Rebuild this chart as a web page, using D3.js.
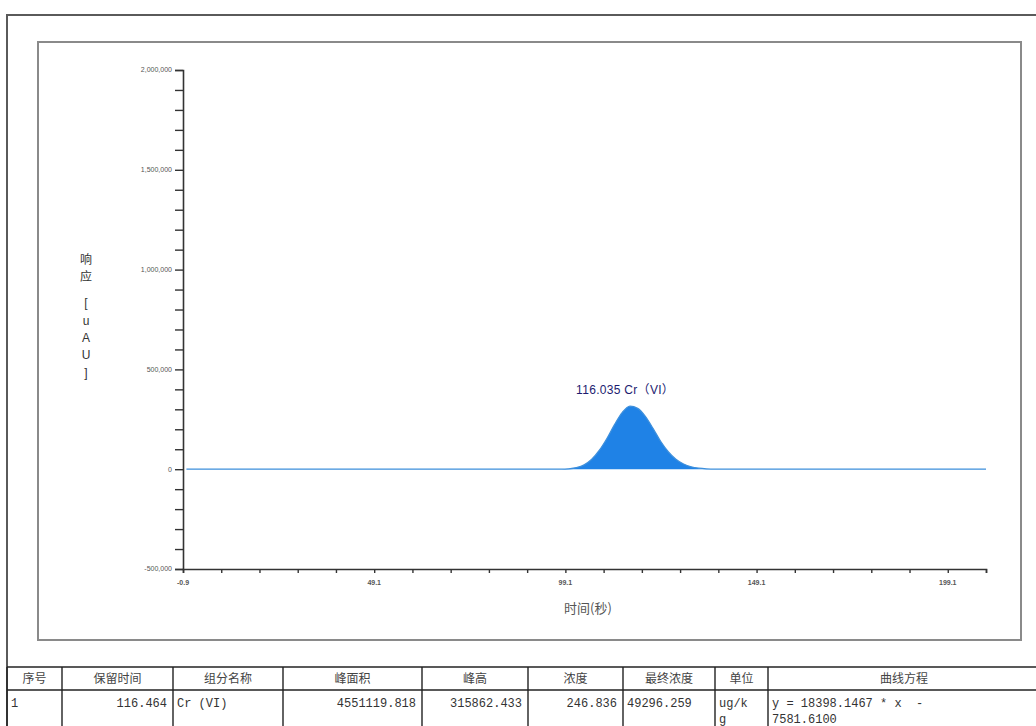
<!DOCTYPE html>
<html><head><meta charset="utf-8">
<script src="https://cdn.jsdelivr.net/npm/d3@7"></script>
<style>
html,body{margin:0;padding:0;background:#fff;}
svg{display:block;}
</style></head>
<body>
<svg id="c" width="1036" height="726"></svg>
<script>
// ---- data ----
const times = [0, 98, 100, 102, 104, 106, 108, 110, 112, 114, 116, 118, 120, 122, 124, 126, 128, 130, 132, 134, 136, 138, 209.1];
const response = [0, 0, 2000, 8000, 22000, 50000, 95000, 155000, 225000, 285000, 316000, 305000, 265000, 205000, 140000, 88000, 50000, 26000, 12000, 5000, 1500, 0, 0];
const peakLabel = "116.035 Cr（VI）";
const peakTime = 116.035;
const peakValue = 316000;
const xTickValues = [-0.9, 9.1, 19.1, 29.1, 39.1, 49.1, 59.1, 69.1, 79.1, 89.1, 99.1, 109.1, 119.1, 129.1, 139.1, 149.1, 159.1, 169.1, 179.1, 189.1, 199.1, 209.1];
const xTickLabels = ["-0.9", "49.1", "99.1", "149.1", "199.1"];
const yTickLabels = ["-500,000", "0", "500,000", "1,000,000", "1,500,000", "2,000,000"];
const yLabelChars = ["响", "应", "[", "u", "A", "U", "]"];
const xTitle = "时间(秒)";
const tableHeaders = ["序号", "保留时间", "组分名称", "峰面积", "峰高", "浓度", "最终浓度", "单位", "曲线方程"];
const tableRow = ["1", "116.464", "Cr (VI)", "4551119.818", "315862.433", "246.836", "49296.259", "ug/k|g", "y = 18398.1467 * x  -|7581.6100"];

// ---- layout ----
const svg = d3.select("#c");
const x = d3.scaleLinear().domain([-0.9, 209.1]).range([183, 986]);
const y = d3.scaleLinear().domain([-500000, 2000000]).range([569, 70]);

// outer frame
svg.append("path").attr("d", "M7,726 L7,15 L1036,15").attr("fill", "none").attr("stroke", "#5a5a5a").attr("stroke-width", 2);
// inner chart box
svg.append("rect").attr("x", 38).attr("y", 42).attr("width", 983).attr("height", 598)
  .attr("fill", "none").attr("stroke", "#8a8a8a").attr("stroke-width", 2);

// y axis
const yAxis = d3.axisLeft(y).tickValues(d3.range(-500000, 2000001, 100000))
  .tickSize(8).tickFormat(d => "");
const gy = svg.append("g").attr("transform", "translate(183,0)").call(yAxis);
gy.select(".domain").attr("stroke", "#333").attr("stroke-width", 1.6);
gy.selectAll(".tick line").attr("stroke", "#333").attr("stroke-width", 1.4);
const yMajors = [-500000, 0, 500000, 1000000, 1500000, 2000000];
svg.append("g").selectAll("text").data(yMajors).join("text")
  .attr("x", 172).attr("y", d => y(d)).attr("dy", "0.35em")
  .attr("text-anchor", "end").attr("font-family", "Liberation Sans, Arial, sans-serif")
  .attr("font-size", 7).attr("fill", "#555")
  .text((d, i) => yTickLabels[i]);

// x axis
const xAxis = d3.axisBottom(x).tickValues(xTickValues).tickSize(4).tickFormat(d => "");
const gx = svg.append("g").attr("transform", "translate(0,569)").call(xAxis);
gx.select(".domain").attr("stroke", "#333").attr("stroke-width", 1.6);
gx.selectAll(".tick line").attr("stroke", "#333").attr("stroke-width", 1.4);
const xMajors = [-0.9, 49.1, 99.1, 149.1, 199.1];
svg.append("g").selectAll("text").data(xMajors).join("text")
  .attr("x", d => x(d)).attr("y", 585)
  .attr("text-anchor", "middle").attr("font-family", "Liberation Sans, Arial, sans-serif")
  .attr("font-size", 7).attr("font-weight", "bold").attr("fill", "#555")
  .text((d, i) => xTickLabels[i]);

// axis titles
const yCharPos = [260, 277, 303, 321, 338, 355, 373];
svg.append("g").selectAll("text").data(yLabelChars).join("text")
  .attr("x", 86).attr("y", (d, i) => yCharPos[i]).attr("dy", "0.35em")
  .attr("text-anchor", "middle")
  .attr("font-family", "Liberation Sans, Noto Sans CJK SC, sans-serif")
  .attr("font-size", 12).attr("fill", "#333")
  .text(d => d);
svg.append("text").attr("x", 588).attr("y", 613).attr("text-anchor", "middle")
  .attr("font-family", "Noto Sans CJK SC, sans-serif").attr("font-size", 13).attr("fill", "#555")
  .text(xTitle);

// peak
const pts = times.map((t, i) => [t, response[i]]);
const area = d3.area().x(d => x(d[0])).y0(y(0)).y1(d => y(d[1])).curve(d3.curveMonotoneX);
svg.append("path").datum(pts).attr("d", area).attr("fill", "#1f82e6");
const line = d3.line().x(d => x(d[0])).y(d => y(d[1])).curve(d3.curveMonotoneX);
svg.append("path").datum(pts).attr("d", line).attr("fill", "none").attr("stroke", "#3d8fdc").attr("stroke-width", 1.3);

svg.append("text").attr("x", x(peakTime) - 5).attr("y", y(peakValue) - 12)
  .attr("text-anchor", "middle").attr("font-family", "Liberation Sans, Arial, Noto Sans CJK SC, sans-serif")
  .attr("font-size", 12).attr("fill", "#1c1c70").attr("letter-spacing", 0.3)
  .text(peakLabel);

// table
const colEdges = [7, 62, 173, 283, 422, 528, 623, 715, 768, 1036];
const tTop = 667, tMid = 690, tBot = 726;
const tg = svg.append("g");
tg.append("line").attr("x1", 7).attr("x2", 1036).attr("y1", tTop).attr("y2", tTop).attr("stroke", "#222").attr("stroke-width", 1.6);
tg.append("line").attr("x1", 7).attr("x2", 1036).attr("y1", tMid).attr("y2", tMid).attr("stroke", "#222").attr("stroke-width", 1.4);
tg.selectAll("line.v").data(colEdges.slice(0, -1)).join("line").attr("class", "v")
  .attr("x1", d => d).attr("x2", d => d).attr("y1", tTop).attr("y2", tBot)
  .attr("stroke", "#222").attr("stroke-width", 1.4);
tg.selectAll("text.h").data(tableHeaders).join("text").attr("class", "h")
  .attr("x", (d, i) => (colEdges[i] + colEdges[i + 1]) / 2 + (i === 8 ? 2 : 0)).attr("y", 679).attr("dy", "0.35em")
  .attr("text-anchor", "middle").attr("font-family", "Noto Sans CJK SC, sans-serif")
  .attr("font-size", 12).attr("fill", "#444").text(d => d);
const align = ["start", "end", "start", "end", "end", "end", "start", "start", "start"];
tableRow.forEach((v, i) => {
  const parts = v.split("|");
  parts.forEach((p, j) => {
    const a = align[i];
    const xx = a === "end" ? colEdges[i + 1] - 6 : colEdges[i] + 4;
    tg.append("text").attr("x", xx).attr("y", 703 + j * 16).attr("dy", "0.35em")
      .attr("text-anchor", a).attr("font-family", "Liberation Mono, DejaVu Sans Mono, monospace")
      .attr("font-size", 12).attr("fill", "#333").attr("xml:space", "preserve").style("white-space", "pre").text(p);
  });
});
</script>
</body></html>
